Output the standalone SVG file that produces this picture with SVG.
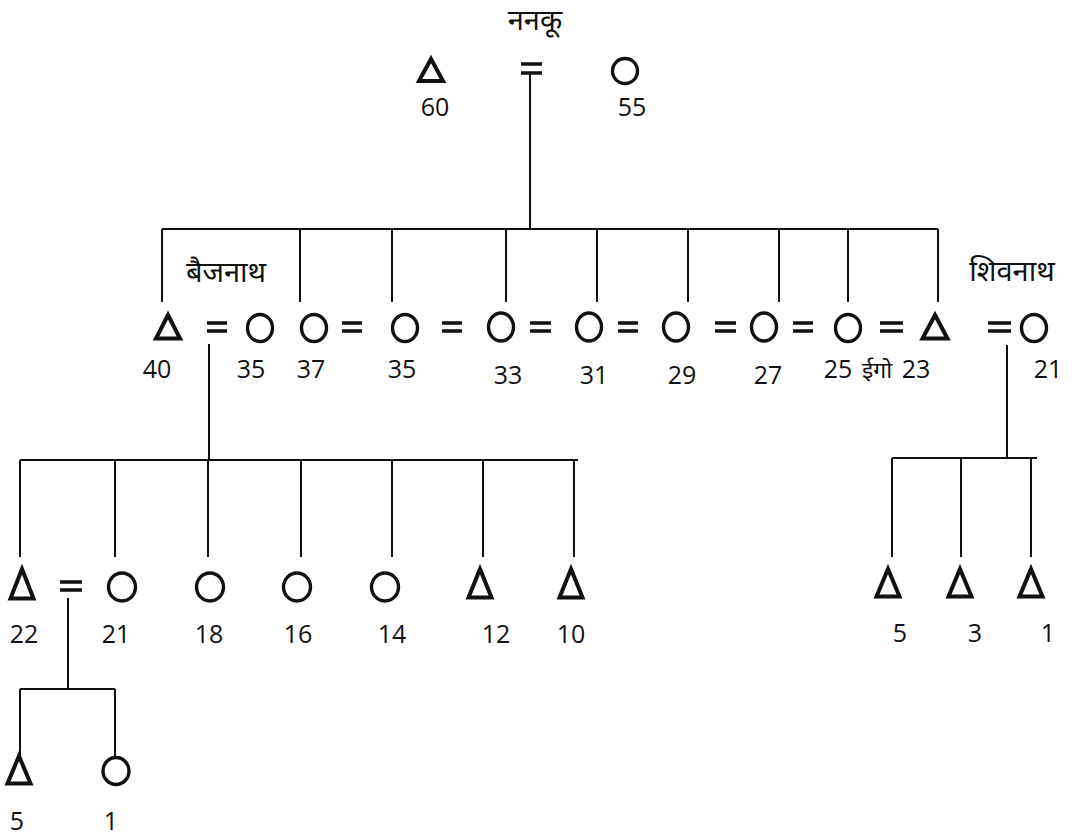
<svg xmlns="http://www.w3.org/2000/svg" width="1084" height="836" viewBox="0 0 1084 836">
<style>
.ln{stroke:#111;stroke-width:2;fill:none}
.tri{stroke:#111;stroke-width:4;fill:none;stroke-linejoin:miter}
.cir{stroke:#111;stroke-width:3.4;fill:none}
.eq{stroke:#111;stroke-width:3.5;fill:none}
.num{font-family:"Open Sans","Noto Sans",sans-serif;font-size:25px;fill:#111;text-anchor:middle}
.hi{font-family:"Noto Sans Devanagari","Noto Sans","Lohit Devanagari","Noto Serif Devanagari",sans-serif;font-size:29px;font-weight:400;fill:#111;text-anchor:middle}
</style>
<rect width="1084" height="836" fill="#fff"/>
<g id="connectors">
<line class="ln" x1="530" y1="73" x2="530" y2="229"/>
<line class="ln" x1="162" y1="229" x2="938" y2="229"/>
<line class="ln" x1="162" y1="229" x2="162" y2="302"/>
<line class="ln" x1="300" y1="229" x2="300" y2="302"/>
<line class="ln" x1="392" y1="229" x2="392" y2="302"/>
<line class="ln" x1="506" y1="229" x2="506" y2="302"/>
<line class="ln" x1="597" y1="229" x2="597" y2="302"/>
<line class="ln" x1="688" y1="229" x2="688" y2="302"/>
<line class="ln" x1="779" y1="229" x2="779" y2="302"/>
<line class="ln" x1="848" y1="229" x2="848" y2="302"/>
<line class="ln" x1="938" y1="229" x2="938" y2="302"/>
<line class="ln" x1="209" y1="344" x2="209" y2="460"/>
<line class="ln" x1="20" y1="460" x2="578" y2="460"/>
<line class="ln" x1="20" y1="460" x2="20" y2="557"/>
<line class="ln" x1="115" y1="460" x2="115" y2="557"/>
<line class="ln" x1="208" y1="460" x2="208" y2="557"/>
<line class="ln" x1="301" y1="460" x2="301" y2="557"/>
<line class="ln" x1="392" y1="460" x2="392" y2="557"/>
<line class="ln" x1="483" y1="460" x2="483" y2="557"/>
<line class="ln" x1="574" y1="460" x2="574" y2="557"/>
<line class="ln" x1="1007" y1="345" x2="1007" y2="458"/>
<line class="ln" x1="892" y1="458" x2="1037" y2="458"/>
<line class="ln" x1="892" y1="458" x2="892" y2="557"/>
<line class="ln" x1="961" y1="458" x2="961" y2="557"/>
<line class="ln" x1="1031" y1="458" x2="1031" y2="557"/>
<line class="ln" x1="68" y1="598" x2="68" y2="689"/>
<line class="ln" x1="20" y1="689" x2="115" y2="689"/>
<line class="ln" x1="20" y1="689" x2="20" y2="757"/>
<line class="ln" x1="115" y1="689" x2="115" y2="757"/>
</g>
<g id="marriage-signs">
<path class="eq" d="M521,64H542M521,73H542"/>
<path class="eq" d="M207,323H227M207,331H227"/>
<path class="eq" d="M342,323H362M342,331H362"/>
<path class="eq" d="M442,323H462M442,331H462"/>
<path class="eq" d="M530,323H551M530,331H551"/>
<path class="eq" d="M618,323H638M618,331H638"/>
<path class="eq" d="M715,323H736M715,331H736"/>
<path class="eq" d="M793,323H813M793,331H813"/>
<path class="eq" d="M880,323H903M880,331H903"/>
<path class="eq" d="M988,323H1011M988,331H1011"/>
<path class="eq" d="M60,582H82M60,590H82"/>
</g>
<g id="n-nanku">
<text class="hi" x="535" y="30">ननकू</text>
</g>
<g id="n-top-m"><path class="tri" d="M431,59L443,81L419,81Z"/><text class="num" x="435" y="116">60</text></g>
<g id="n-top-f"><ellipse class="cir" cx="625" cy="71" rx="12.5" ry="12.5"/><text class="num" x="632" y="116">55</text></g>
<g id="n-baijnath"><path class="tri" d="M168,315L180,338.5L156,338.5Z"/><text class="hi" x="226" y="282">बैजनाथ</text><text class="num" x="157" y="378">40</text></g>
<g id="n-w1"><ellipse class="cir" cx="260" cy="328" rx="12.5" ry="13.5"/><text class="num" x="251" y="378">35</text></g>
<g id="n-d37"><ellipse class="cir" cx="314" cy="328" rx="12.5" ry="13.5"/><text class="num" x="311" y="378">37</text></g>
<g id="n-d35"><ellipse class="cir" cx="405" cy="328" rx="12.5" ry="13.5"/><text class="num" x="402" y="378">35</text></g>
<g id="n-d33"><ellipse class="cir" cx="501" cy="327" rx="12.5" ry="14"/><text class="num" x="508" y="384">33</text></g>
<g id="n-d31"><ellipse class="cir" cx="589" cy="327" rx="12.5" ry="14"/><text class="num" x="594" y="384">31</text></g>
<g id="n-d29"><ellipse class="cir" cx="676" cy="327" rx="12.5" ry="14"/><text class="num" x="682" y="384">29</text></g>
<g id="n-d27"><ellipse class="cir" cx="764" cy="327" rx="12.5" ry="14"/><text class="num" x="768" y="384">27</text></g>
<g id="n-d25"><ellipse class="cir" cx="848" cy="328" rx="12.5" ry="13.5"/><text class="num" x="838" y="378">25</text></g>
<g id="n-ego"><path class="tri" d="M935,315L947.5,338.5L922.5,338.5Z"/><text class="hi" style="font-size:23px" x="877" y="378">ईगो</text><text class="num" x="916" y="378">23</text></g>
<g id="n-shivnath"><ellipse class="cir" cx="1034" cy="328" rx="12.5" ry="13.5"/><text class="hi" x="1012" y="281">शिवनाथ</text><text class="num" x="1048" y="378">21</text></g>
<g id="n-c22"><path class="tri" d="M22,569L33.5,598.5L10.5,598.5Z"/><text class="num" x="24" y="643">22</text></g>
<g id="n-c22w"><ellipse class="cir" cx="122" cy="587" rx="13.5" ry="14"/><text class="num" x="116" y="643">21</text></g>
<g id="n-c18"><ellipse class="cir" cx="210" cy="587" rx="13.5" ry="14"/><text class="num" x="209" y="643">18</text></g>
<g id="n-c16"><ellipse class="cir" cx="297" cy="587" rx="13.5" ry="14"/><text class="num" x="298" y="643">16</text></g>
<g id="n-c14"><ellipse class="cir" cx="385" cy="587" rx="13.5" ry="14"/><text class="num" x="392" y="643">14</text></g>
<g id="n-c12"><path class="tri" d="M480,569L491.5,597.5L468.5,597.5Z"/><text class="num" x="496" y="643">12</text></g>
<g id="n-c10"><path class="tri" d="M571,569L582.5,597.5L559.5,597.5Z"/><text class="num" x="571" y="643">10</text></g>
<g id="n-g5"><path class="tri" d="M19,756L30.5,783.5L7.5,783.5Z"/><text class="num" x="17" y="830">5</text></g>
<g id="n-g1"><ellipse class="cir" cx="116" cy="771" rx="13" ry="13.5"/><text class="num" x="111" y="830">1</text></g>
<g id="n-s5"><path class="tri" d="M888,569L899.5,596.5L876.5,596.5Z"/><text class="num" x="900" y="642">5</text></g>
<g id="n-s3"><path class="tri" d="M960,569L971.5,596.5L948.5,596.5Z"/><text class="num" x="975" y="642">3</text></g>
<g id="n-s1"><path class="tri" d="M1031,569L1042.5,596.5L1019.5,596.5Z"/><text class="num" x="1048" y="642">1</text></g>
</svg>
